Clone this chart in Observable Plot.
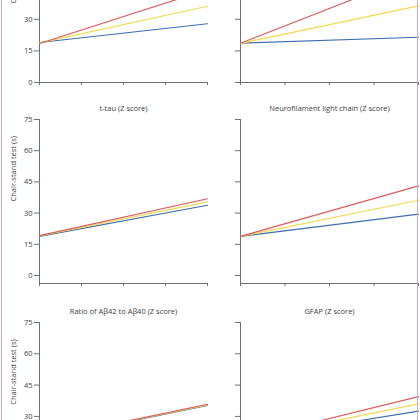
<!DOCTYPE html>
<html><head><meta charset="utf-8">
<script src="https://cdn.jsdelivr.net/npm/d3@7"></script>
<script src="https://cdn.jsdelivr.net/npm/@observablehq/plot@0.6"></script>
<style>
body{margin:0;background:#fff;}
#wrap{position:relative;width:420px;height:420px;overflow:hidden;background:#fff;font-family:"Open Sans",sans-serif;}
.panel{position:absolute;}
.border{position:absolute;top:0;height:420px;width:1px;background:#d9a6c1;}
</style></head><body>
<div id="wrap"></div>
<script>
// ---- data ----
const groups = ["Low", "Intermediate", "High"];
const groupColors = ["#3d6fae", "#f3d94f", "#e05a5a"];
const zScores = [0, 4];
const xTicks = [0, 1, 2, 3, 4];
const yTicks = [0, 15, 30, 45, 60, 75];
const yLabel = "Chair-stand test (s)";

const panelTitles = [
  "p-tau181 (Z score)",
  "p-tau217 (Z score)",
  "t-tau (Z score)",
  "Neurofilament light chain (Z score)",
  "Ratio of A\u03b242 to A\u03b240 (Z score)",
  "GFAP (Z score)"
];
// start (Z=0) and end (Z=4) values for Low, Intermediate, High
const pTau181Start = [19.0, 18.8, 18.5];
const pTau181End   = [27.9, 36.2, 44.1];
const pTau217Start = [18.7, 18.6, 18.6];
const pTau217End   = [21.5, 36.4, 51.7];
const tTauStart    = [18.8, 19.0, 19.2];
const tTauEnd      = [33.8, 35.4, 36.9];
const nflStart     = [18.8, 18.8, 18.8];
const nflEnd       = [29.5, 36.2, 43.1];
const abRatioStart = [18.8, 18.9, 19.0];
const abRatioEnd   = [35.2, 35.5, 35.8];
const gfapStart    = [18.8, 18.7, 18.5];
const gfapEnd      = [32.5, 36.0, 39.5];

const panelStarts = [pTau181Start, pTau217Start, tTauStart, nflStart, abRatioStart, gfapStart];
const panelEnds   = [pTau181End, pTau217End, tTauEnd, nflEnd, abRatioEnd, gfapEnd];

// ---- layout ----
const rows = [
  {top: -76, bottom: 82, inset: 0},
  {top: 119, bottom: 283, inset: 8},
  {top: 322, bottom: 486.5, inset: 8}
];
const cols = [
  {left: 0, width: 210, ml: 39, mr: 3, labels: true},
  {left: 210, width: 210, ml: 30, mr: 2, labels: false}
];
const mt = 24, mb = 10;
const axisColor = "#707070", textColor = "#404040";
const wrap = document.getElementById("wrap");

panelTitles.forEach((title, p) => {
  const row = rows[Math.floor(p / 2)], col = cols[p % 2];
  const data = [];
  groups.forEach((g, i) => {
    data.push({group: g, z: zScores[0], value: panelStarts[p][i]});
    data.push({group: g, z: zScores[1], value: panelEnds[p][i]});
  });
  const height = mt + (row.bottom - row.top) + mb;
  const marks = [
    Plot.ruleX([0], {stroke: axisColor, strokeWidth: 1}),
    Plot.ruleY([0], {dy: row.inset, stroke: axisColor, strokeWidth: 1}),
    Plot.axisX({ticks: xTicks, tickFormat: () => "", tickSize: 3, stroke: axisColor, label: null}),
    Plot.axisY({ticks: yTicks, tickSize: 5, tickPadding: 2, stroke: axisColor, fill: textColor,
                tickFormat: col.labels ? (d => String(d)) : (() => ""), label: null, fontSize: 7.5}),
    Plot.line(data, {x: "z", y: "value", z: "group", stroke: "group", strokeWidth: 1.15}),
    Plot.text([title], {frameAnchor: "top", dy: -14, fill: textColor, fontSize: 7.5})
  ];
  if (col.labels) {
    marks.push(Plot.text([yLabel], {frameAnchor: "left", dx: -26, rotate: -90, fill: textColor, fontSize: 7.5}));
  }
  const chart = Plot.plot({
    width: col.width, height,
    marginLeft: col.ml, marginRight: col.mr, marginTop: mt, marginBottom: mb,
    style: {background: "transparent", fontFamily: "'Open Sans', sans-serif", fontSize: "7.5px", overflow: "visible"},
    x: {domain: [0, 4], axis: null},
    y: {domain: [0, 75], insetBottom: row.inset, axis: null},
    color: {domain: groups, range: groupColors},
    marks
  });
  chart.classList.add("panel");
  chart.style.left = col.left + "px";
  chart.style.top = (row.top - mt) + "px";
  wrap.appendChild(chart);
});

["1px", "417px"].forEach(x => {
  const b = document.createElement("div");
  b.className = "border";
  b.style.left = x;
  wrap.appendChild(b);
});
</script></body></html>
